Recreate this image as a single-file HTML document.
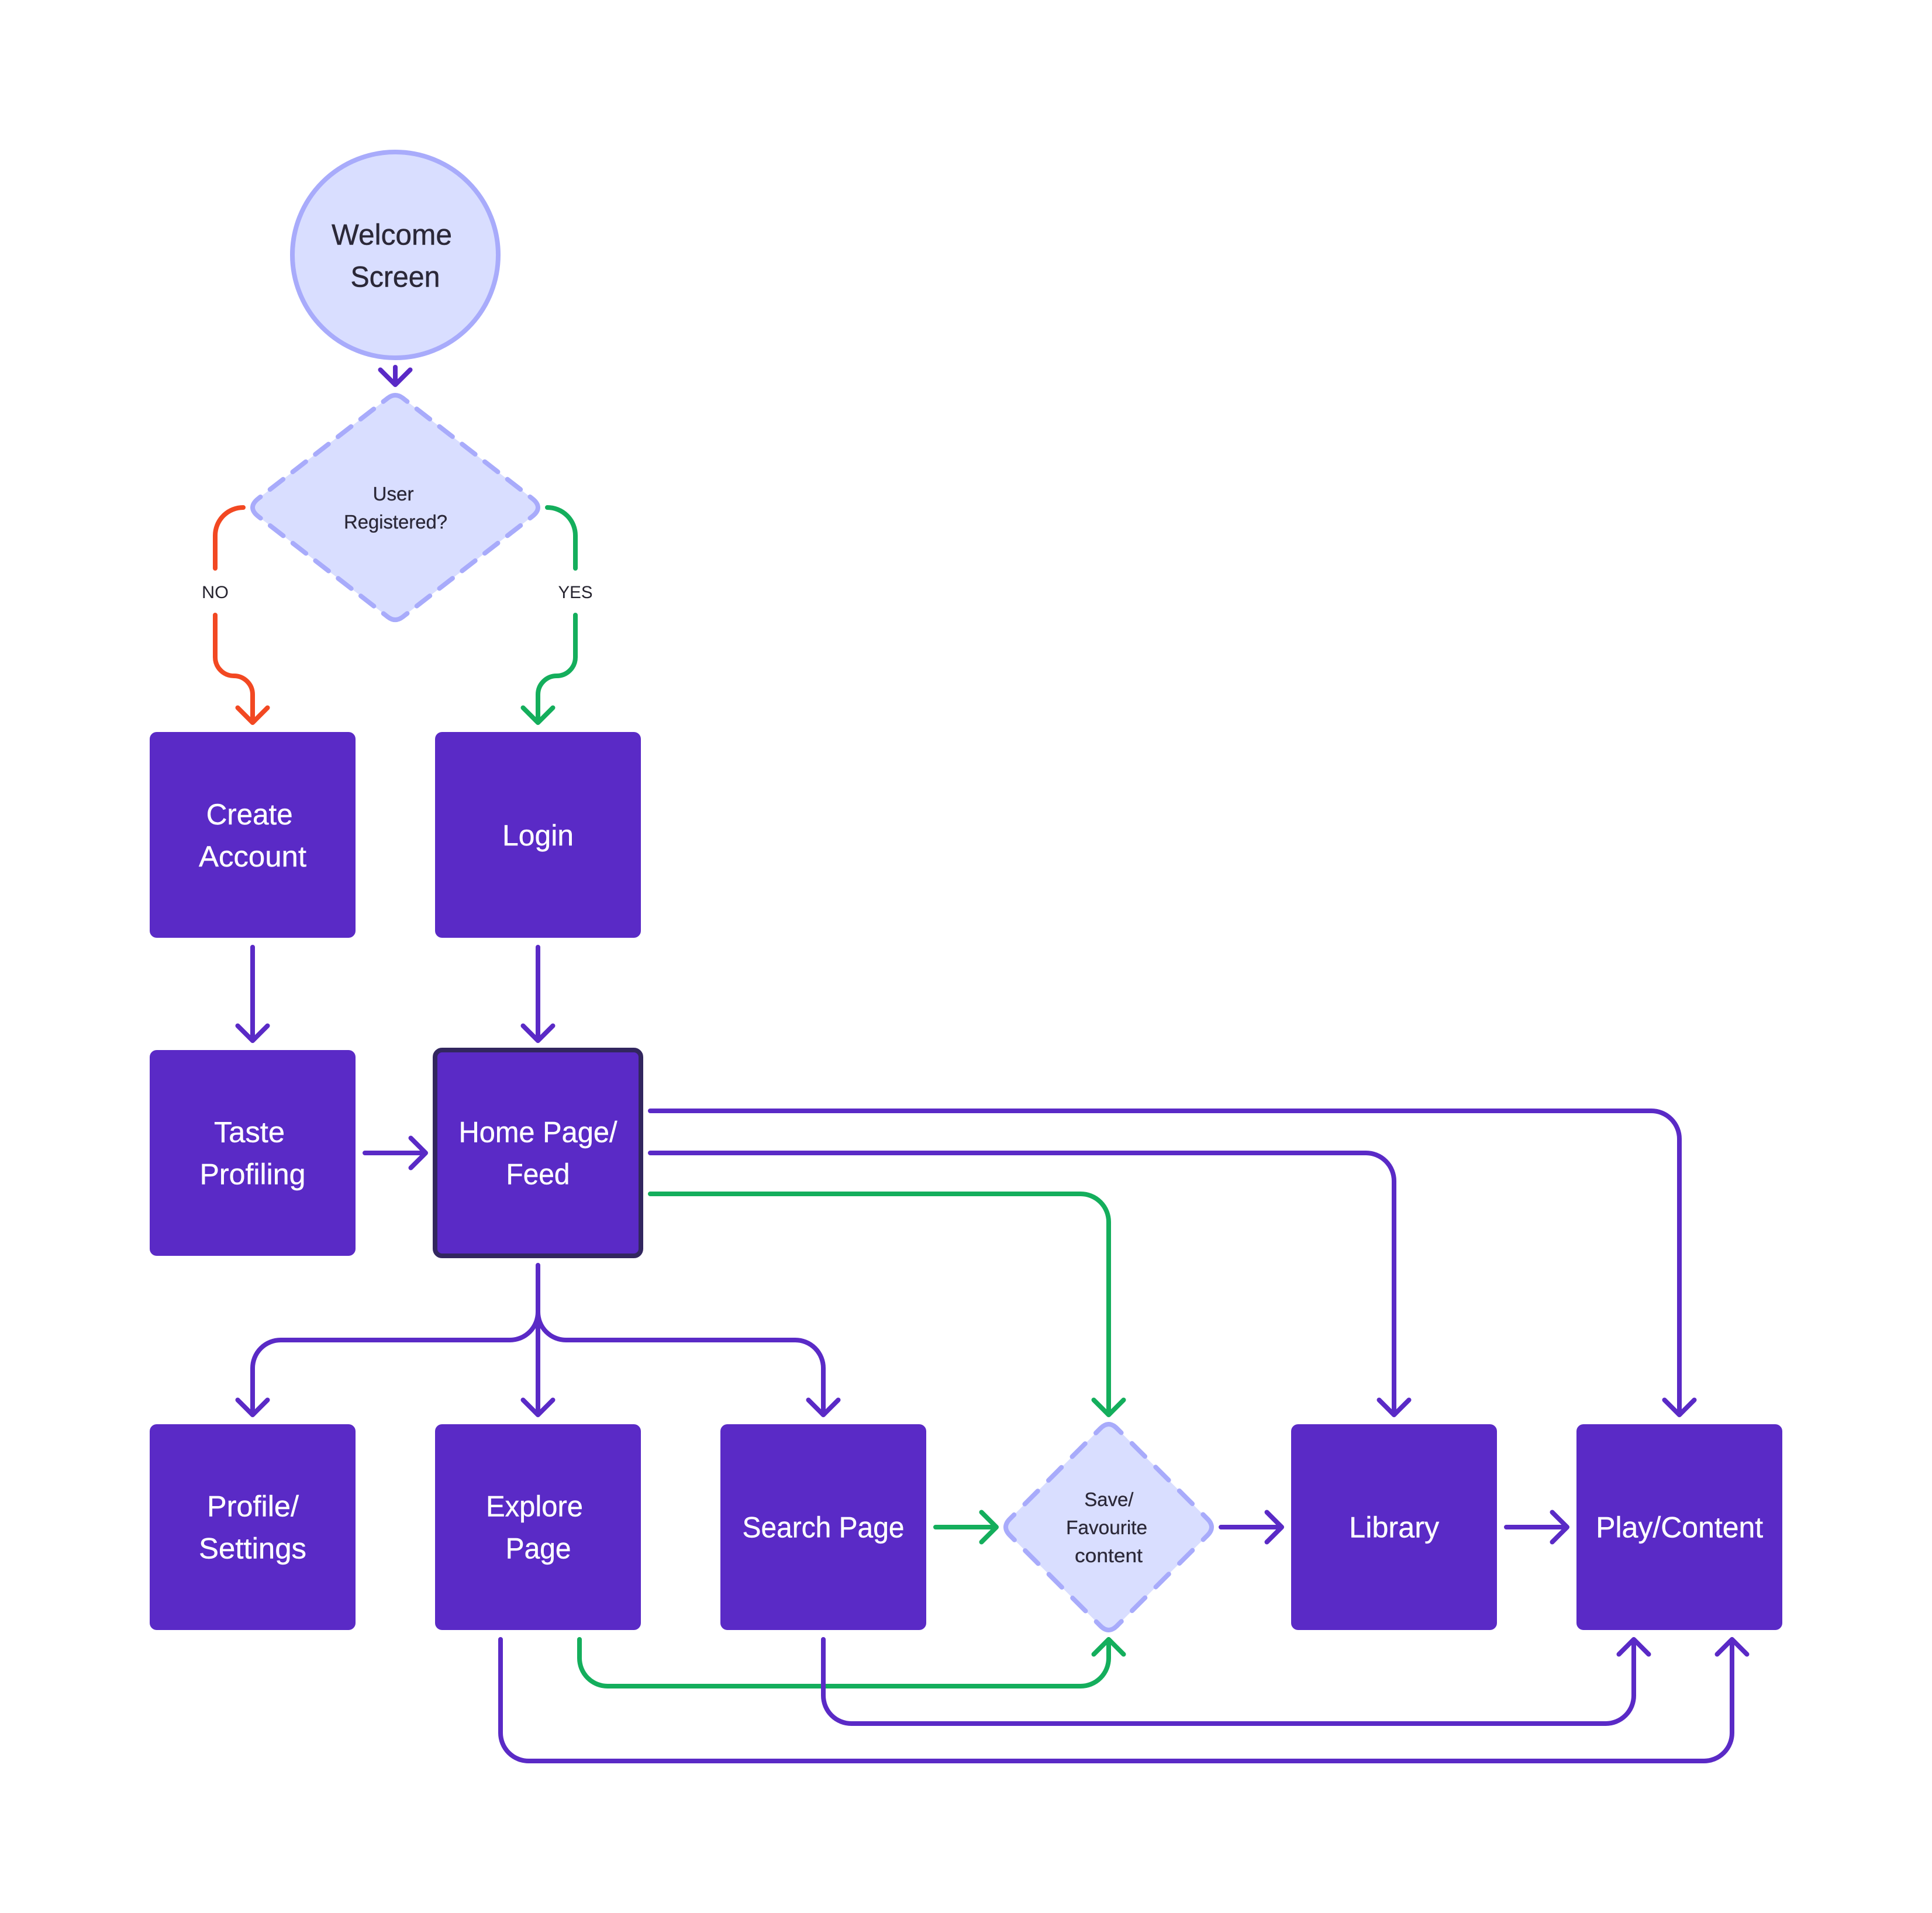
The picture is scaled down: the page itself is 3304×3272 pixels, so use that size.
<!DOCTYPE html>
<html>
<head>
<meta charset="utf-8">
<style>
html,body{margin:0;padding:0;background:#fff;width:3304px;height:3272px;overflow:hidden}
svg{display:block}
text{font-family:"Liberation Sans",sans-serif;text-anchor:middle}
.w{fill:#fff;stroke:#fff;stroke-width:.4;font-size:50px}
.d{fill:#2b2838;stroke:#2b2838;stroke-width:.5;font-size:50px}
.s{fill:#2b2838;stroke:#2b2838;stroke-width:.3;font-size:33px}
.l{fill:#26242f;font-size:30px}
.c{fill:none;stroke-width:8;stroke-linecap:round;stroke-linejoin:round}
.p{stroke:#5a2ac6}
.g{stroke:#14ae5c}
.r{stroke:#f24822}
</style>
</head>
<body>
<svg xmlns="http://www.w3.org/2000/svg" width="3304" height="3272" viewBox="0 0 3304 3272">
<rect width="3304" height="3272" fill="#fff"/>

<!-- Welcome -->
<circle cx="676" cy="436" r="176" fill="#d9deff" stroke="#a8abfb" stroke-width="8"/>
<text class="d" x="670" y="418.5" textLength="206" lengthAdjust="spacingAndGlyphs">Welcome</text>
<text class="d" x="676" y="490.5" textLength="153" lengthAdjust="spacingAndGlyphs">Screen</text>

<!-- Diamond 1 -->
<path d="M676 676 Q682.4 676 688.8 680.85 L910 852.5 Q930 868 910 883.5 L688.8 1055.15 Q676 1065 663.2 1055.15 L442 883.5 Q422 868 442 852.5 L663.2 680.85 Q669.6 676 676 676Z" fill="#d9deff" stroke="#a8abfb" stroke-width="8" stroke-linecap="round" pathLength="1276" stroke-dasharray="24 21 29 21 29 21 29 21 29 21 29 21 48 21 29 21 29 21 29 21 29 21 29 21 48 21 29 21 29 21 29 21 29 21 29 21 48 21 29 21 29 21 29 21 29 21 29 21 24 0"/>
<text class="s" x="672.5" y="856" textLength="70" lengthAdjust="spacingAndGlyphs">User</text>
<text class="s" x="676.5" y="904" textLength="177" lengthAdjust="spacingAndGlyphs">Registered?</text>

<!-- Diamond 2 -->
<path d="M1896 2436 Q1903 2436 1910 2443 L2065 2598 Q2079 2612 2065 2626 L1910 2781 Q1896 2795 1882 2781 L1727 2626 Q1713 2612 1727 2598 L1882 2443 Q1889 2436 1896 2436Z" fill="#d9deff" stroke="#a8abfb" stroke-width="8" stroke-linecap="round" pathLength="1052" stroke-dasharray="28 27 33 27 33 27 33 27 56 27 33 27 33 27 33 27 56 27 33 27 33 27 33 27 56 27 33 27 33 27 33 27 28 0"/>
<text class="s" x="1896.4" y="2576" textLength="84" lengthAdjust="spacingAndGlyphs">Save/</text>
<text class="s" x="1892.6" y="2624" textLength="139" lengthAdjust="spacingAndGlyphs">Favourite</text>
<text class="s" x="1896" y="2672" textLength="116" lengthAdjust="spacingAndGlyphs">content</text>

<!-- Boxes -->
<g fill="#5a2ac6">
<rect x="256" y="1252" width="352" height="352" rx="12"/>
<rect x="744" y="1252" width="352" height="352" rx="12"/>
<rect x="256" y="1796" width="352" height="352" rx="12"/>
<rect x="744" y="1796" width="352" height="352" rx="12" stroke="#32265f" stroke-width="8"/>
<rect x="256" y="2436" width="352" height="352" rx="12"/>
<rect x="744" y="2436" width="352" height="352" rx="12"/>
<rect x="1232" y="2436" width="352" height="352" rx="12"/>
<rect x="2208" y="2436" width="352" height="352" rx="12"/>
<rect x="2696" y="2436" width="352" height="352" rx="12"/>
</g>

<text class="w" x="426.7" y="1410" textLength="148" lengthAdjust="spacingAndGlyphs">Create</text>
<text class="w" x="432" y="1482" textLength="184" lengthAdjust="spacingAndGlyphs">Account</text>
<text class="w" x="920" y="1446" textLength="122" lengthAdjust="spacingAndGlyphs">Login</text>
<text class="w" x="426.5" y="1953.5" textLength="121" lengthAdjust="spacingAndGlyphs">Taste</text>
<text class="w" x="432" y="2025.5" textLength="181" lengthAdjust="spacingAndGlyphs">Profiling</text>
<text class="w" x="920" y="1953.5" textLength="271" lengthAdjust="spacingAndGlyphs">Home Page/</text>
<text class="w" x="920" y="2025.5" textLength="109" lengthAdjust="spacingAndGlyphs">Feed</text>
<text class="w" x="432.5" y="2593.5" textLength="157" lengthAdjust="spacingAndGlyphs">Profile/</text>
<text class="w" x="432" y="2665.5" textLength="184" lengthAdjust="spacingAndGlyphs">Settings</text>
<text class="w" x="914" y="2593.5" textLength="166" lengthAdjust="spacingAndGlyphs">Explore</text>
<text class="w" x="920.6" y="2665.5" textLength="112" lengthAdjust="spacingAndGlyphs">Page</text>
<text class="w" x="1408" y="2629.5" textLength="277" lengthAdjust="spacingAndGlyphs">Search Page</text>
<text class="w" x="2384.2" y="2629.5" textLength="154" lengthAdjust="spacingAndGlyphs">Library</text>
<text class="w" x="2872.2" y="2629.5" textLength="286" lengthAdjust="spacingAndGlyphs">Play/Content</text>

<!-- Connector labels -->
<text class="l" x="368" y="1023" textLength="46" lengthAdjust="spacingAndGlyphs">NO</text>
<text class="l" x="984" y="1023" textLength="59" lengthAdjust="spacingAndGlyphs">YES</text>

<!-- Connectors -->
<g class="c p">
<path d="M676 628V658M650.500 632.500L676 658L701.500 632.500"/>
<path d="M432 1620V1780M406.500 1754.500L432 1780L457.500 1754.500"/>
<path d="M920 1620V1780M894.500 1754.500L920 1780L945.500 1754.500"/>
<path d="M624 1972H728M702.500 1946.500L728 1972L702.500 1997.500"/>
<path d="M920 2164V2420M894.500 2394.500L920 2420L945.500 2394.500"/>
<path d="M920 2244A48 48 0 0 1 872 2292H480A48 48 0 0 0 432 2340V2420M406.500 2394.500L432 2420L457.500 2394.500"/>
<path d="M920 2244A48 48 0 0 0 968 2292H1360A48 48 0 0 1 1408 2340V2420M1382.500 2394.500L1408 2420L1433.500 2394.500"/>
<path d="M1112 1900H2824A48 48 0 0 1 2872 1948V2420M2846.500 2394.500L2872 2420L2897.500 2394.500"/>
<path d="M1112 1972H2336A48 48 0 0 1 2384 2020V2420M2358.500 2394.500L2384 2420L2409.500 2394.500"/>
<path d="M2088 2612H2192M2166.500 2586.500L2192 2612L2166.500 2637.500"/>
<path d="M2576 2612H2680M2654.500 2586.500L2680 2612L2654.500 2637.500"/>
<path d="M856 2804V2964A48 48 0 0 0 904 3012H2914A48 48 0 0 0 2962 2964V2804M2936.500 2829.500L2962 2804L2987.500 2829.500"/>
</g>
<g class="c g">
<path d="M1112 2042H1848A48 48 0 0 1 1896 2090V2420M1870.500 2394.500L1896 2420L1921.500 2394.500"/>
<path d="M1600 2612H1704M1678.500 2586.500L1704 2612L1678.500 2637.500"/>
<path d="M991 2804V2836A48 48 0 0 0 1039 2884H1848A48 48 0 0 0 1896 2836V2804M1870.500 2829.500L1896 2804L1921.500 2829.500"/>
<path d="M936 868A48 48 0 0 1 984 916V972"/>
<path d="M984 1052V1124A32 32 0 0 1 952 1156A32 32 0 0 0 920 1188V1236M894.500 1210.500L920 1236L945.500 1210.500"/>
</g>
<g class="c p">
<path d="M1408 2804V2900A48 48 0 0 0 1456 2948H2746A48 48 0 0 0 2794 2900V2804M2768.500 2829.500L2794 2804L2819.500 2829.500"/>
</g>
<g class="c r">
<path d="M416 868A48 48 0 0 0 368 916V972"/>
<path d="M368 1052V1124A32 32 0 0 0 400 1156A32 32 0 0 1 432 1188V1236M406.500 1210.500L432 1236L457.500 1210.500"/>
</g>
</svg>
</body>
</html>
